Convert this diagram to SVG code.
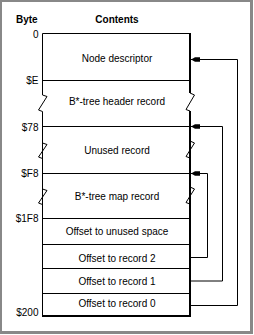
<svg xmlns="http://www.w3.org/2000/svg" width="254" height="335" viewBox="0 0 254 335">
<style>
text{font-family:"Liberation Sans",Arial,sans-serif;font-size:10px;fill:#000}
.h{font-weight:bold}
.c{text-anchor:middle}
.r{text-anchor:end}
.ln{stroke:#000;stroke-width:1;fill:none}
.thk{stroke:#000;stroke-width:2;fill:none}
</style>
<defs>
<marker id="ah" markerWidth="10" markerHeight="6" refX="9" refY="3" orient="auto" markerUnits="userSpaceOnUse">
<polygon points="9,3 5,0.8 0,0.8 0,5.2 5,5.2" fill="#000"/>
</marker>
</defs>
<rect x="0" y="0" width="254" height="335" fill="#fff"/>
<rect x="0" y="0" width="253" height="334" fill="#888"/>
<rect x="2" y="2" width="248" height="329" fill="#fff"/>
<g id="headers">
<text class="h" x="16" y="23">Byte</text>
<text class="h c" x="117" y="23">Contents</text>
</g>
<g id="offsets">
<text class="r" x="38.5" y="37.5">0</text>
<text class="r" x="38.5" y="84">$E</text>
<text class="r" x="38.5" y="130.5">$78</text>
<text class="r" x="38.5" y="177">$F8</text>
<text class="r" x="38.5" y="222">$1F8</text>
<text class="r" x="38.5" y="316">$200</text>
</g>
<g id="frame">
<path class="ln" d="M42.5,33.5 H190 M42.5,33.5 V95 L47,96.5 L38.5,110 L42.5,111.5 V316"/>
<path class="thk" d="M190,33 V93 M190,111 V316 M42,316 H191"/>
<path class="ln" d="M190,93 L194.5,95 L186,109.5 L190,111"/>
</g>
<g id="node-descriptor">
<text class="c" x="117" y="62">Node descriptor</text>
<path class="ln" d="M42.5,80.5 H190"/>
</g>
<g id="header-record">
<text class="c" x="117" y="105">B*-tree header record</text>
<path class="ln" d="M42.5,126.5 H190"/>
</g>
<g id="unused-record">
<text class="c" x="117" y="154">Unused record</text>
<path class="ln" d="M42.5,126.5 V143 L47,144.5 L38.5,157 L42.5,158.5"/>
<path class="thk" d="M190,126 V141 M190,158 V174"/>
<path class="ln" d="M190,141 L194.5,143 L186,156.5 L190,158"/>
<path class="ln" d="M42.5,173.5 H190"/>
</g>
<g id="map-record">
<text class="c" x="117" y="200">B*-tree map record</text>
<path class="ln" d="M42.5,173.5 V189 L47,190.5 L38.5,203 L42.5,204.5"/>
<path class="thk" d="M190,173 V187 M190,204 V219"/>
<path class="ln" d="M190,187 L194.5,189 L186,202.5 L190,204"/>
<path class="ln" d="M42.5,218.5 H190"/>
</g>
<g id="offset-unused">
<text class="c" x="117" y="234.5">Offset to unused space</text>
<path class="ln" d="M42.5,244.5 H190"/>
</g>
<g id="offset-2">
<text class="c" x="117" y="261.5">Offset to record 2</text>
<path class="ln" d="M42.5,268.5 H190"/>
</g>
<g id="offset-1">
<text class="c" x="117" y="285">Offset to record 1</text>
<path class="ln" d="M42.5,293.5 H190"/>
</g>
<g id="offset-0">
<text class="c" x="117" y="306.5">Offset to record 0</text>
</g>
<g id="connectors">
<path class="ln" d="M191,305.5 H237.5 V59.5 H191" marker-end="url(#ah)"/>
<path class="ln" d="M191,281 H222.5 V126.5 H191" marker-end="url(#ah)"/>
<path class="ln" d="M191,257.5 H207.5 V173.5 H191" marker-end="url(#ah)"/>
</g>
</svg>
